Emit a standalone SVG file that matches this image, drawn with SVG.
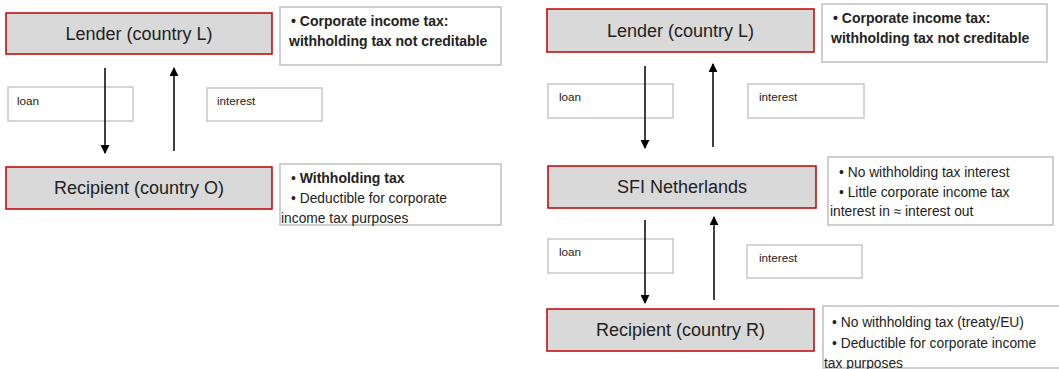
<svg xmlns="http://www.w3.org/2000/svg" width="1059" height="369" viewBox="0 0 1059 369">
  <style>
    text { font-family: "Liberation Sans", Arial, sans-serif; fill: #222222; }
    .node { fill: #d9d9d9; stroke: #c00000; stroke-width: 1.5; }
    .node-label { font-size: 18px; text-anchor: middle; }
    .note { fill: #ffffff; stroke: #c0c0c0; stroke-width: 1.5; }
    .note-text { font-size: 13.8px; }
    .b { font-weight: bold; font-size: 14px; }
    .lbl { fill: #ffffff; stroke: #c8c8c8; stroke-width: 1.5; }
    .lbl-text { font-size: 11.7px; }
    .conn { stroke: #000000; stroke-width: 1.5; fill: none; marker-end: url(#arrow); }
  </style>
  <defs>
    <marker id="arrow" viewBox="0 0 10 10" refX="9" refY="5" markerWidth="6" markerHeight="6" markerUnits="strokeWidth" orient="auto">
      <path d="M0,0 L10,5 L0,10 z" fill="#000000"/>
    </marker>
  </defs>

  <!-- Left diagram -->
  <g id="lender-left">
    <rect class="node" x="6" y="13" width="266" height="41"/>
    <text class="node-label" x="139" y="40">Lender (country L)</text>
  </g>
  <g id="lender-left-note">
    <rect class="note" x="280" y="7" width="221" height="58"/>
    <text class="b" x="291" y="26">• Corporate income tax:</text>
    <text class="b" x="289" y="46">withholding tax not creditable</text>
  </g>
  <g id="recipient-o">
    <rect class="node" x="6" y="167" width="266" height="42"/>
    <text class="node-label" x="139" y="194">Recipient (country O)</text>
  </g>
  <g id="recipient-o-note">
    <rect class="note" x="280" y="164" width="221" height="61"/>
    <text class="note-text" x="291" y="183">• <tspan class="b">Withholding tax</tspan></text>
    <text class="note-text" x="291" y="203">• Deductible for corporate</text>
    <text class="note-text" x="281" y="223">income tax purposes</text>
  </g>
  <g id="loan-left">
    <rect class="lbl" x="8" y="87" width="125" height="34"/>
    <text class="lbl-text" x="17" y="105">loan</text>
  </g>
  <g id="interest-left">
    <rect class="lbl" x="207" y="88" width="115" height="33"/>
    <text class="lbl-text" x="217" y="105">interest</text>
  </g>

  <!-- Right diagram -->
  <g id="lender-right">
    <rect class="node" x="547" y="9" width="267" height="43"/>
    <text class="node-label" x="680.5" y="37">Lender (country L)</text>
  </g>
  <g id="lender-right-note">
    <rect class="note" x="822" y="4" width="225" height="58"/>
    <text class="b" x="833" y="23">• Corporate income tax:</text>
    <text class="b" x="831" y="43">withholding tax not creditable</text>
  </g>
  <g id="sfi-netherlands">
    <rect class="node" x="548" y="166" width="268" height="42"/>
    <text class="node-label" x="682" y="193">SFI Netherlands</text>
  </g>
  <g id="sfi-note">
    <rect class="note" x="828" y="157" width="225" height="68"/>
    <text class="note-text" x="839" y="177">• No withholding tax interest</text>
    <text class="note-text" x="839" y="197">• Little corporate income tax</text>
    <text class="note-text" x="830" y="216">interest in ≈ interest out</text>
  </g>
  <g id="recipient-r">
    <rect class="node" x="547" y="309" width="267" height="42"/>
    <text class="node-label" x="680.5" y="336">Recipient (country R)</text>
  </g>
  <g id="recipient-r-note">
    <rect class="note" x="823" y="306" width="240" height="62"/>
    <text class="note-text" x="832" y="327">• No withholding tax (treaty/EU)</text>
    <text class="note-text" x="832" y="348">• Deductible for corporate income</text>
    <text class="note-text" x="824" y="368">tax purposes</text>
  </g>
  <g id="loan-right-1">
    <rect class="lbl" x="548" y="84" width="125" height="34"/>
    <text class="lbl-text" x="559" y="101">loan</text>
  </g>
  <g id="interest-right-1">
    <rect class="lbl" x="748" y="84" width="116" height="34"/>
    <text class="lbl-text" x="759" y="101">interest</text>
  </g>
  <g id="loan-right-2">
    <rect class="lbl" x="548" y="239" width="125" height="34"/>
    <text class="lbl-text" x="559" y="256">loan</text>
  </g>
  <g id="interest-right-2">
    <rect class="lbl" x="747" y="245" width="115" height="33"/>
    <text class="lbl-text" x="759" y="262">interest</text>
  </g>

  <!-- Connectors -->
  <g id="connectors">
    <line class="conn" x1="105" y1="68" x2="105" y2="153"/>
    <line class="conn" x1="174" y1="151" x2="174" y2="68"/>
    <line class="conn" x1="645" y1="66" x2="645" y2="148"/>
    <line class="conn" x1="713" y1="147" x2="713" y2="64"/>
    <line class="conn" x1="645" y1="220" x2="645" y2="303"/>
    <line class="conn" x1="714" y1="300" x2="714" y2="217"/>
  </g>
</svg>
